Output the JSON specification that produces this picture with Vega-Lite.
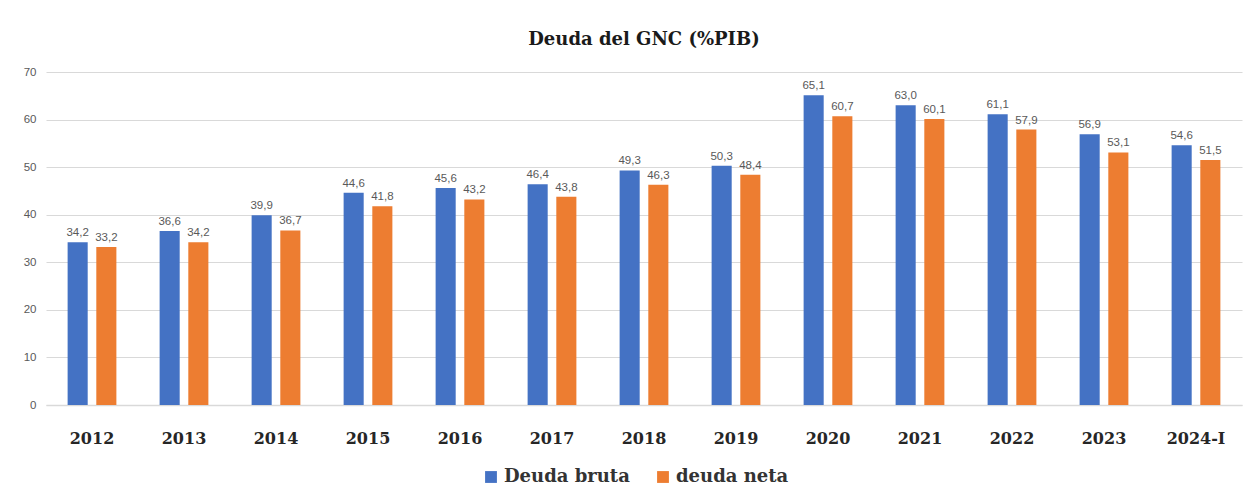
{
  "$schema": "https://vega.github.io/schema/vega-lite/v6.json",
  "width": 1196,
  "height": 333,
  "padding": {"left": 23, "top": 31, "right": 6, "bottom": 10},
  "background": "white",
  "config": {
    "locale": {"number": {"decimal": ",", "thousands": ".", "grouping": [3], "currency": ["", ""]}},
    "view": {"stroke": null},
    "axis": {"labelFont": "Liberation Sans", "labelColor": "#595959"}
  },
  "title": {
    "text": "Deuda del GNC (%PIB)",
    "font": "DejaVu Serif",
    "fontSize": 18,
    "fontWeight": "bold",
    "color": "#1a1a1a",
    "anchor": "middle",
    "offset": 17
  },
  "data": {
    "values": [
      {"year": "2012", "serie": "Deuda bruta", "value": 34.2},
      {"year": "2012", "serie": "deuda neta", "value": 33.2},
      {"year": "2013", "serie": "Deuda bruta", "value": 36.6},
      {"year": "2013", "serie": "deuda neta", "value": 34.2},
      {"year": "2014", "serie": "Deuda bruta", "value": 39.9},
      {"year": "2014", "serie": "deuda neta", "value": 36.7},
      {"year": "2015", "serie": "Deuda bruta", "value": 44.6},
      {"year": "2015", "serie": "deuda neta", "value": 41.8},
      {"year": "2016", "serie": "Deuda bruta", "value": 45.6},
      {"year": "2016", "serie": "deuda neta", "value": 43.2},
      {"year": "2017", "serie": "Deuda bruta", "value": 46.4},
      {"year": "2017", "serie": "deuda neta", "value": 43.8},
      {"year": "2018", "serie": "Deuda bruta", "value": 49.3},
      {"year": "2018", "serie": "deuda neta", "value": 46.3},
      {"year": "2019", "serie": "Deuda bruta", "value": 50.3},
      {"year": "2019", "serie": "deuda neta", "value": 48.4},
      {"year": "2020", "serie": "Deuda bruta", "value": 65.1},
      {"year": "2020", "serie": "deuda neta", "value": 60.7},
      {"year": "2021", "serie": "Deuda bruta", "value": 63.0},
      {"year": "2021", "serie": "deuda neta", "value": 60.1},
      {"year": "2022", "serie": "Deuda bruta", "value": 61.1},
      {"year": "2022", "serie": "deuda neta", "value": 57.9},
      {"year": "2023", "serie": "Deuda bruta", "value": 56.9},
      {"year": "2023", "serie": "deuda neta", "value": 53.1},
      {"year": "2024-I", "serie": "Deuda bruta", "value": 54.6},
      {"year": "2024-I", "serie": "deuda neta", "value": 51.5}
    ]
  },
  "encoding": {
    "x": {
      "field": "year",
      "type": "nominal",
      "sort": null,
      "scale": {"paddingInner": 0.47, "paddingOuter": 0.235},
      "axis": {
        "title": null,
        "labelAngle": 0,
        "labelFont": "DejaVu Serif",
        "labelFontWeight": "bold",
        "labelFontSize": 16,
        "labelColor": "#262626",
        "labelPadding": 25,
        "ticks": false,
        "domain": true,
        "domainColor": "#d9d9d9",
        "domainWidth": 1.5
      }
    },
    "xOffset": {"field": "serie", "type": "nominal", "scale": {"paddingInner": 0.3}},
    "y": {
      "field": "value",
      "type": "quantitative",
      "scale": {"domain": [0, 70], "nice": false},
      "axis": {
        "title": null,
        "values": [0, 10, 20, 30, 40, 50, 60, 70],
        "domain": false,
        "ticks": false,
        "labelFontSize": 11.5,
        "labelPadding": 10,
        "gridColor": "#d9d9d9",
        "gridWidth": 1.2
      }
    }
  },
  "layer": [
    {
      "mark": {"type": "bar"},
      "encoding": {
        "color": {
          "field": "serie",
          "type": "nominal",
          "scale": {"domain": ["Deuda bruta", "deuda neta"], "range": ["#4472C4", "#ED7D31"]},
          "legend": {
            "title": null,
            "orient": "none",
            "legendX": 436,
            "legendY": 396,
            "direction": "horizontal",
            "symbolType": "square",
            "symbolSize": 140,
            "symbolStrokeWidth": 0,
            "labelFont": "DejaVu Serif",
            "labelFontWeight": "bold",
            "labelFontSize": 18,
            "labelColor": "#333333",
            "columnPadding": 24
          }
        }
      }
    },
    {
      "mark": {
        "type": "text",
        "baseline": "bottom",
        "dy": -4,
        "font": "Liberation Sans",
        "fontSize": 11.5,
        "color": "#595959"
      },
      "encoding": {
        "text": {"field": "value", "type": "quantitative", "format": ".1f"}
      }
    }
  ]
}
